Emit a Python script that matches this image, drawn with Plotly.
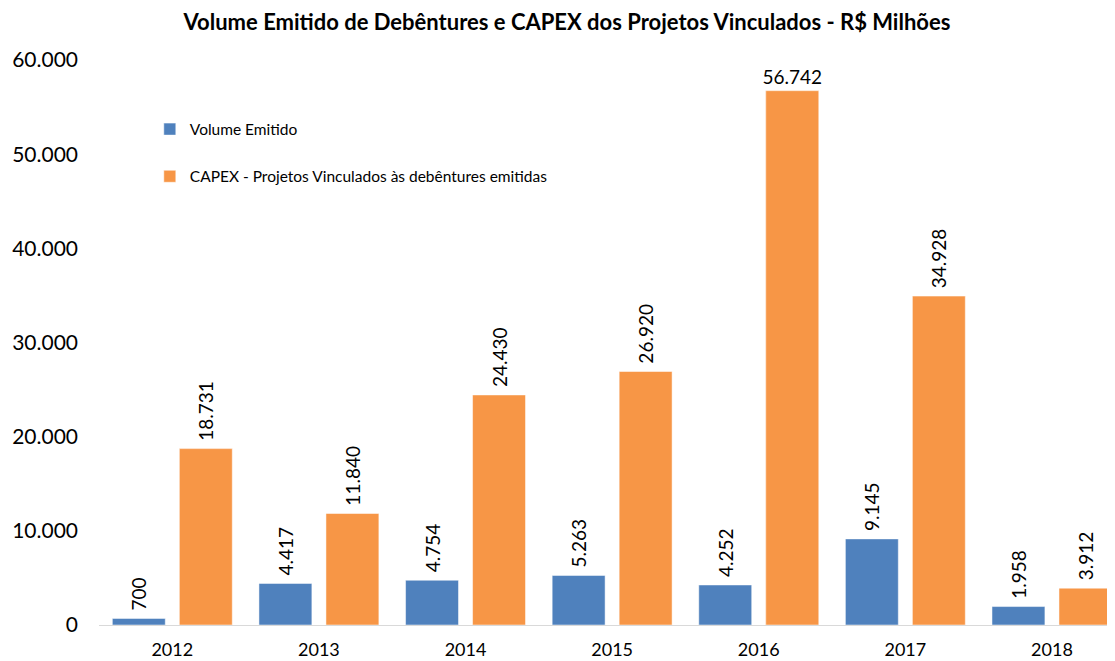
import plotly.graph_objects as go

years = ["2012", "2013", "2014", "2015", "2016", "2017", "2018"]
volume_emitido = [700, 4417, 4754, 5263, 4252, 9145, 1958]
capex_projetos = [18731, 11840, 24430, 26920, 56742, 34928, 3912]
y_ticks = [0, 10000, 20000, 30000, 40000, 50000, 60000]

BLUE = "#4F81BD"
ORANGE = "#F79646"
FONT = "Lato"
PAD = "\u00a0"

# page body adds an 8px offset to the figure
W, H = 1107, 661

# the tallest bar carries a horizontal label, the others are rotated
tallest = capex_projetos.index(max(capex_projetos))
capex_labels = ["" if i == tallest else PAD + "%{y:,.0f}" for i in range(len(years))]

label_font = dict(family=FONT, size=19, color="#000000")

fig = go.Figure()
fig.add_trace(
    go.Bar(
        x=years,
        y=volume_emitido,
        name="Volume Emitido",
        marker=dict(color=BLUE, line=dict(color="#FFFFFF", width=0.5)),
        texttemplate=PAD + "%{y:,.0f}",
        textposition="outside",
        textangle=-90,
        constraintext="none",
        textfont=label_font,
        cliponaxis=False,
        offsetgroup="vol",
        legendgroup="vol",
    )
)
fig.add_trace(
    go.Bar(
        x=years,
        y=capex_projetos,
        name="CAPEX - Projetos Vinculados às debêntures emitidas",
        marker=dict(color=ORANGE, line=dict(color="#FFFFFF", width=0.5)),
        texttemplate=capex_labels,
        textposition="outside",
        textangle=-90,
        constraintext="none",
        textfont=label_font,
        cliponaxis=False,
        offsetgroup="capex",
        legendgroup="capex",
    )
)
fig.add_trace(
    go.Bar(
        x=[years[tallest]],
        y=[capex_projetos[tallest]],
        marker=dict(color=ORANGE, line=dict(color="#FFFFFF", width=0.5)),
        texttemplate="%{y:,.0f}",
        textposition="outside",
        textangle=0,
        constraintext="none",
        textfont=label_font,
        cliponaxis=False,
        offsetgroup="capex",
        showlegend=False,
        hoverinfo="skip",
    )
)

fig.update_layout(
    width=W,
    height=H,
    margin=dict(l=91, r=0, t=52, b=44),
    paper_bgcolor="#FFFFFF",
    plot_bgcolor="#FFFFFF",
    separators=",.",
    barmode="group",
    bargap=0.086,
    bargroupgap=0.21,
    font=dict(family=FONT, color="#000000"),
    title=dict(
        text="<b>Volume Emitido de Debêntures e CAPEX dos Projetos Vinculados - R$ Milhões</b>",
        x=559 / W,
        xanchor="center",
        y=1 - 14 / H,
        yanchor="middle",
        font=dict(family=FONT, size=22, color="#000000"),
    ),
    legend=dict(
        x=0.05,
        y=0.907,
        xanchor="left",
        yanchor="top",
        bgcolor="rgba(0,0,0,0)",
        font=dict(family=FONT, size=15.5, color="#000000"),
        tracegroupgap=24,
    ),
    showlegend=True,
)
fig.update_xaxes(
    type="category",
    range=[-0.5, 6.43],
    showline=True,
    linecolor="#D9D9D9",
    linewidth=1,
    showgrid=False,
    ticks="",
    automargin=False,
    ticklabelstandoff=8,
    tickfont=dict(family=FONT, size=18, color="#000000"),
)
fig.update_yaxes(
    range=[0, 60000],
    tickvals=y_ticks,
    tickformat=",.0f",
    showline=False,
    showgrid=False,
    zeroline=False,
    ticks="",
    automargin=False,
    ticklabelstandoff=20,
    tickfont=dict(family=FONT, size=21, color="#000000"),
)

fig.write_html("out.html")
